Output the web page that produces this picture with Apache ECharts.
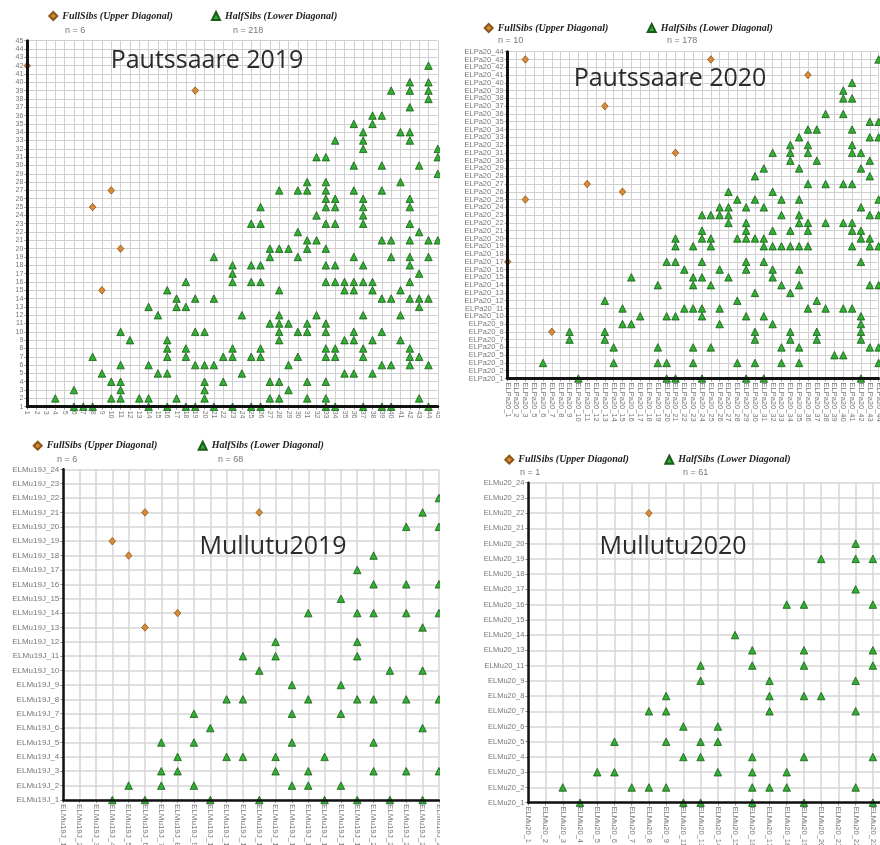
<!DOCTYPE html>
<html>
<head>
<meta charset="utf-8">
<title>FullSibs / HalfSibs</title>
<script src="https://cdn.jsdelivr.net/npm/echarts@6/dist/echarts.min.js"></script>
<style>
  body { margin: 0; background: #fff; }
  .box { position: absolute; overflow: hidden; background: #fff; }
</style>
</head>
<body>
<div class="box" style="left:0;top:0;width:440px;height:428px"><div id="p19" style="width:460px;height:428px"></div></div>
<div class="box" style="left:440px;top:0;width:440px;height:430px"><div id="p20" style="width:460px;height:430px"></div></div>
<div class="box" style="left:0;top:430px;width:440px;height:415px"><div id="m19" style="width:460px;height:415px"></div></div>
<div class="box" style="left:440px;top:440px;width:440px;height:405px"><div id="m20" style="width:470px;height:405px"></div></div>
<script>
// individuals on both axes (same order on x and y)
const P19_IDS = [1, 2, 3, 4, 5, 6, 7, 8, 9, 10, 11, 12, 13, 14, 15, 16, 17, 18, 19, 20, 21, 22, 23,
  24, 25, 26, 27, 28, 29, 30, 31, 32, 33, 34, 35, 36, 37, 38, 39, 40, 41, 42, 43, 44, 45]
const P20_IDS = [1, 2, 3, 5, 6, 7, 8, 9, 10, 11, 12, 13, 14, 15, 16, 17, 18, 19, 20, 21, 22, 23, 24,
  25, 26, 27, 28, 29, 30, 31, 32, 33, 34, 35, 36, 37, 38, 39, 40, 41, 42, 43, 44]
const M19_IDS = [1, 2, 3, 4, 5, 6, 7, 8, 9, 10, 11, 12, 13, 14, 15, 16, 17, 18, 19, 20, 21, 22, 23, 24]
const M20_IDS = [1, 2, 3, 4, 5, 6, 7, 8, 9, 11, 13, 14, 15, 16, 17, 18, 19, 20, 21, 22, 23, 24]

// [x individual, y individual]
const P19_FULL = [[1, 42], [8, 25], [10, 27], [11, 20], [9, 15], [19, 39]]
const P19_HALF = [
  [44, 42], [42, 40], [44, 40], [40, 39], [42, 39], [44, 39], [44, 38], [42, 37], [38, 36], [39, 36],
  [36, 35], [38, 35], [37, 34], [41, 34], [42, 34], [34, 33], [37, 33], [42, 33], [37, 32], [45, 32],
  [32, 31], [33, 31], [45, 31], [36, 30], [39, 30], [43, 30], [45, 29], [31, 28], [33, 28], [41, 28],
  [28, 27], [30, 27], [31, 27], [33, 27], [36, 27], [39, 27], [33, 26], [34, 26], [37, 26], [42, 26],
  [26, 25], [33, 25], [34, 25], [37, 25], [42, 25], [32, 24], [37, 24],
  [25, 23], [26, 23], [33, 23], [34, 23], [37, 23], [42, 23], [30, 22], [43, 22],
  [31, 21], [32, 21], [39, 21], [40, 21], [42, 21], [44, 21], [45, 21],
  [27, 20], [28, 20], [29, 20], [31, 20], [33, 20],
  [21, 19], [27, 19], [30, 19], [36, 19], [40, 19], [42, 19], [44, 19],
  [23, 18], [25, 18], [26, 18], [33, 18], [34, 18], [37, 18], [42, 18], [23, 17], [43, 17],
  [18, 16], [23, 16], [25, 16], [26, 16], [33, 16], [34, 16], [35, 16], [36, 16], [37, 16], [38, 16], [42, 16],
  [16, 15], [28, 15], [35, 15], [36, 15], [38, 15], [41, 15],
  [17, 14], [19, 14], [21, 14], [39, 14], [40, 14], [42, 14], [43, 14], [44, 14],
  [14, 13], [17, 13], [18, 13], [43, 13], [15, 12], [24, 12], [28, 12], [32, 12], [37, 12], [41, 12],
  [27, 11], [28, 11], [29, 11], [31, 11], [33, 11],
  [11, 10], [19, 10], [20, 10], [28, 10], [30, 10], [31, 10], [33, 10], [36, 10], [39, 10],
  [12, 9], [16, 9], [28, 9], [35, 9], [36, 9], [38, 9], [41, 9],
  [16, 8], [18, 8], [23, 8], [26, 8], [33, 8], [34, 8], [37, 8], [42, 8],
  [8, 7], [16, 7], [18, 7], [22, 7], [23, 7], [25, 7], [26, 7], [30, 7], [33, 7], [34, 7], [37, 7], [42, 7], [43, 7],
  [11, 6], [14, 6], [19, 6], [20, 6], [21, 6], [29, 6], [39, 6], [40, 6], [42, 6], [44, 6],
  [9, 5], [15, 5], [16, 5], [24, 5], [35, 5], [36, 5], [38, 5],
  [10, 4], [11, 4], [20, 4], [22, 4], [27, 4], [28, 4], [31, 4], [33, 4],
  [6, 3], [11, 3], [20, 3], [29, 3],
  [4, 2], [10, 2], [11, 2], [13, 2], [14, 2], [17, 2], [20, 2], [27, 2], [28, 2], [31, 2], [33, 2], [43, 2],
  [6, 1], [7, 1], [8, 1], [14, 1], [16, 1], [18, 1], [19, 1], [21, 1], [23, 1], [25, 1], [26, 1], [33, 1],
  [34, 1], [37, 1], [39, 1], [40, 1], [44, 1]
]

const P20_FULL = [[3, 43], [25, 43], [36, 41], [13, 37], [21, 31], [11, 27], [15, 26], [3, 25], [7, 8], [1, 17]]
const P20_HALF = [
  [44, 43], [41, 40], [40, 39], [40, 38], [41, 38], [38, 36], [40, 36], [43, 35], [44, 35],
  [36, 34], [37, 34], [41, 34], [35, 33], [43, 33], [44, 33], [34, 32], [36, 32], [41, 32],
  [32, 31], [34, 31], [36, 31], [41, 31], [42, 31], [34, 30], [37, 30], [43, 30],
  [31, 29], [35, 29], [42, 29], [30, 28], [43, 28], [36, 27], [38, 27], [40, 27], [41, 27], [27, 26], [32, 26],
  [28, 25], [30, 25], [33, 25], [35, 25], [44, 25], [26, 24], [27, 24], [29, 24], [31, 24], [42, 24],
  [24, 23], [25, 23], [26, 23], [27, 23], [33, 23], [35, 23], [43, 23], [44, 23],
  [27, 22], [29, 22], [35, 22], [36, 22], [38, 22], [40, 22], [41, 22],
  [24, 21], [29, 21], [32, 21], [34, 21], [36, 21], [41, 21], [42, 21],
  [21, 20], [24, 20], [25, 20], [28, 20], [29, 20], [30, 20], [31, 20], [42, 20], [43, 20],
  [21, 19], [23, 19], [25, 19], [31, 19], [32, 19], [33, 19], [34, 19], [35, 19], [36, 19], [41, 19], [43, 19], [44, 19],
  [20, 17], [21, 17], [24, 17], [29, 17], [31, 17], [42, 17],
  [22, 16], [26, 16], [29, 16], [32, 16], [35, 16], [16, 15], [23, 15], [24, 15], [27, 15], [32, 15],
  [19, 14], [23, 14], [25, 14], [33, 14], [35, 14], [43, 14], [44, 14], [30, 13], [34, 13], [13, 12], [28, 12], [37, 12],
  [15, 11], [22, 11], [23, 11], [24, 11], [26, 11], [36, 11], [38, 11], [40, 11], [41, 11],
  [17, 10], [20, 10], [21, 10], [24, 10], [29, 10], [31, 10], [42, 10], [15, 9], [16, 9], [26, 9], [32, 9], [42, 9],
  [9, 8], [13, 8], [30, 8], [34, 8], [37, 8], [42, 8], [9, 7], [13, 7], [30, 7], [34, 7], [37, 7], [42, 7],
  [14, 6], [19, 6], [23, 6], [25, 6], [33, 6], [35, 6], [43, 6], [44, 6], [39, 5], [40, 5],
  [6, 3], [14, 3], [19, 3], [20, 3], [23, 3], [28, 3], [30, 3], [33, 3], [35, 3], [44, 3],
  [10, 1], [20, 1], [21, 1], [24, 1], [29, 1], [31, 1], [42, 1]
]

const M19_FULL = [[6, 21], [13, 21], [4, 19], [5, 18], [8, 14], [6, 13]]
const M19_HALF = [
  [24, 22], [23, 21], [22, 20], [24, 20], [20, 18], [19, 17], [20, 16], [22, 16], [24, 16], [18, 15],
  [16, 14], [19, 14], [20, 14], [22, 14], [24, 14], [23, 13], [14, 12], [19, 12], [12, 11], [14, 11], [19, 11],
  [13, 10], [21, 10], [23, 10], [15, 9], [18, 9], [11, 8], [12, 8], [16, 8], [19, 8], [20, 8], [22, 8], [24, 8],
  [9, 7], [15, 7], [18, 7], [10, 6], [23, 6], [7, 5], [9, 5], [15, 5], [20, 5],
  [8, 4], [11, 4], [12, 4], [14, 4], [17, 4], [7, 3], [8, 3], [14, 3], [16, 3], [20, 3], [22, 3], [24, 3],
  [5, 2], [7, 2], [9, 2], [15, 2], [16, 2], [18, 2],
  [4, 1], [6, 1], [10, 1], [13, 1], [17, 1], [19, 1], [21, 1], [23, 1]
]

const M20_FULL = [[8, 22]]
const M20_HALF = [
  [22, 20], [20, 19], [22, 19], [23, 19], [22, 17], [18, 16], [19, 16], [23, 16], [15, 14],
  [16, 13], [19, 13], [23, 13], [13, 11], [16, 11], [19, 11], [23, 11], [13, 9], [17, 9], [22, 9],
  [9, 8], [17, 8], [19, 8], [20, 8], [8, 7], [9, 7], [17, 7], [22, 7], [11, 6], [14, 6],
  [6, 5], [9, 5], [13, 5], [14, 5], [11, 4], [13, 4], [16, 4], [19, 4], [23, 4],
  [5, 3], [6, 3], [14, 3], [16, 3], [18, 3], [3, 2], [7, 2], [8, 2], [9, 2], [16, 2], [17, 2], [18, 2], [22, 2],
  [4, 1], [11, 1], [13, 1], [16, 1], [19, 1], [23, 1]
]

// n shown under each legend entry: [full, half]
const N_P19 = [6, 218]
const N_P20 = [10, 178]
const N_M19 = [6, 68]
const N_M20 = [1, 61]

const FULL_NAME = 'FullSibs (Upper Diagonal)'
const HALF_NAME = 'HalfSibs (Lower Diagonal)'

function drawPanel(id, p) {
  const chart = echarts.init(document.getElementById(id))
  const labels = p.ids.map(n => p.prefix + n)
  const toIdx = pts => pts.map(([x, y]) => [p.ids.indexOf(x), p.ids.indexOf(y)])

  const mainAxis = (pos) => ({
    type: 'category',
    data: labels,
    boundaryGap: false,
    position: pos,
    axisLine: { show: false },
    axisTick: { show: true, length: 3, lineStyle: { color: '#999' } },
    axisLabel: {
      interval: 0,
      fontSize: p.font,
      fontFamily: 'Liberation Sans',
      color: '#777',
      margin: 4,
      rotate: pos === 'bottom' ? -90 : 0
    },
    splitLine: { show: true, lineStyle: { color: p.splitColor, width: p.splitWidth } }
  })
  // second axis only to draw the thick black line above the marks
  const lineAxis = (pos) => ({
    type: 'category',
    data: labels,
    boundaryGap: false,
    position: pos,
    z: 5,
    axisLine: { show: true, lineStyle: { color: '#111', width: p.axisW } },
    axisTick: { show: false },
    axisLabel: { show: false },
    splitLine: { show: false }
  })

  const legendStyle = {
    padding: 0,
    itemWidth: 8,
    itemHeight: 8,
    top: p.legendY,
    textStyle: {
      fontFamily: 'Liberation Serif',
      fontStyle: 'italic',
      fontWeight: 'bold',
      fontSize: 10,
      color: '#222'
    }
  }

  chart.setOption({
    animation: false,
    backgroundColor: '#fff',
    legend: [
      Object.assign({ left: p.legendX[0], data: [{ name: FULL_NAME, icon: 'diamond' }] }, legendStyle),
      Object.assign({ left: p.legendX[1], data: [{ name: HALF_NAME, icon: 'triangle' }] }, legendStyle)
    ],
    graphic: [
      {
        type: 'text', x: p.titleXY[0], y: p.titleXY[1], z: 10,
        style: { text: p.title, fill: '#2b2b2b', font: '25px "Open Sans"', align: 'center', verticalAlign: 'middle' }
      },
      {
        type: 'text', x: p.nXY[0][0], y: p.nXY[0][1],
        style: { text: 'n = ' + p.n[0], fill: '#777', font: '9px "Liberation Sans"', verticalAlign: 'middle' }
      },
      {
        type: 'text', x: p.nXY[1][0], y: p.nXY[1][1],
        style: { text: 'n = ' + p.n[1], fill: '#777', font: '9px "Liberation Sans"', verticalAlign: 'middle' }
      }
    ],
    grid: Object.assign({ containLabel: false, outerBoundsMode: 'none' }, p.grid),
    xAxis: [mainAxis('bottom'), lineAxis('bottom')],
    yAxis: [mainAxis('left'), lineAxis('left')],
    series: [
      {
        name: FULL_NAME,
        type: 'scatter',
        symbol: 'diamond',
        symbolSize: [6.5, 7.5],
        itemStyle: { color: '#d88a36', borderColor: '#8c5516', borderWidth: 0.8, opacity: 1 },
        data: toIdx(p.full)
      },
      {
        name: HALF_NAME,
        type: 'scatter',
        symbol: 'triangle',
        symbolSize: 7.5,
        itemStyle: { color: '#2fae2f', borderColor: '#1b5a1b', borderWidth: 0.8, opacity: 1 },
        data: toIdx(p.half)
      }
    ]
  })
  return chart
}

drawPanel('p19', {
  ids: P19_IDS, prefix: '', full: P19_FULL, half: P19_HALF, n: N_P19,
  title: 'Pautssaare 2019', titleXY: [207, 61],
  legendX: [48.3, 211], legendY: 11, nXY: [[65, 30.7], [233, 30.7]],
  grid: { left: 27.3, top: 40.7, width: 410.5, height: 366 },
  font: 7, axisW: 3, splitColor: '#d0d0d0', splitWidth: 1
})

drawPanel('p20', {
  ids: P20_IDS, prefix: 'ELPa20_', full: P20_FULL, half: P20_HALF, n: N_P20,
  title: 'Pautssaare 2020', titleXY: [230, 79],
  legendX: [43.7, 206.7], legendY: 23, nXY: [[58, 40.7], [227, 40.7]],
  grid: { left: 67.7, top: 51.7, width: 370.9, height: 326.8 },
  font: 7.5, axisW: 3, splitColor: '#d0d0d0', splitWidth: 1
})

drawPanel('m19', {
  ids: M19_IDS, prefix: 'ELMu19J_', full: M19_FULL, half: M19_HALF, n: N_M19,
  title: 'Mullutu2019', titleXY: [273, 117],
  legendX: [32.7, 197.7], legendY: 10.7, nXY: [[57, 29.3], [218, 29.3]],
  grid: { left: 63.3, top: 39.3, width: 375.6, height: 330.7 },
  font: 8, axisW: 2.5, splitColor: '#d6d6d6', splitWidth: 1.5
})

drawPanel('m20', {
  ids: M20_IDS, prefix: 'ELMu20_', full: M20_FULL, half: M20_HALF, n: N_M20,
  title: 'Mullutu2020', titleXY: [233, 107],
  legendX: [64.3, 224.3], legendY: 14.7, nXY: [[80, 32.3], [243, 32.3]],
  grid: { left: 88.3, top: 42.7, width: 361.8, height: 320 },
  font: 7.5, axisW: 2.5, splitColor: '#d6d6d6', splitWidth: 1.5
})
</script>
</body>
</html>
